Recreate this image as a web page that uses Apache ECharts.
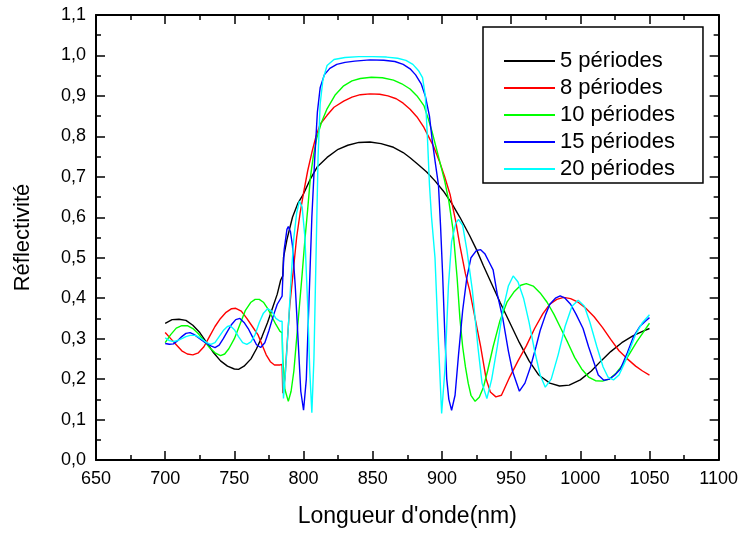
<!DOCTYPE html>
<html><head><meta charset="utf-8">
<script src="https://cdn.jsdelivr.net/npm/echarts@6/dist/echarts.min.js"></script>
<style>html,body{margin:0;padding:0;background:#fff}#c{width:741px;height:533px}</style>
</head><body><div id="c"></div>
<script>
const seriesNames = ['5 périodes', '8 périodes', '10 périodes', '15 périodes', '20 périodes'];
const seriesColors = ['#000000', '#ff0000', '#00ff00', '#0000ff', '#00ffff'];
const xTicks = [650, 700, 750, 800, 850, 900, 950, 1000, 1050, 1100];
const yTicks = [0, 0.1, 0.2, 0.3, 0.4, 0.5, 0.6, 0.7, 0.8, 0.9, 1.0, 1.1];

const wl5 = [700,705,710,715,720,725,730,735,740,745,750,753,757,762,766,770,774,778,781,783.5,785,785.5,788,792,796,800,805,810,817,825,832,840,848,856,865,872,877,883,889,895,901,907,913,920,925,930,936,942,949,956,963,970,978,985,992,1000,1008,1015,1022,1030,1038,1045,1050];
const r5  = [0.338,0.347,0.348,0.345,0.333,0.315,0.29,0.265,0.245,0.232,0.225,0.224,0.232,0.25,0.275,0.305,0.34,0.38,0.41,0.445,0.455,0.5,0.545,0.6,0.635,0.658,0.695,0.725,0.748,0.768,0.778,0.785,0.786,0.782,0.773,0.76,0.747,0.73,0.712,0.69,0.665,0.635,0.6,0.555,0.52,0.48,0.435,0.39,0.34,0.29,0.245,0.21,0.19,0.183,0.185,0.198,0.22,0.245,0.268,0.29,0.307,0.318,0.325];

const wl8 = [700,704,708,712,716,720,724,728,732,736,740,744,748,751,755,759,763,767,770,773,776,779,783,784.5,785,786.5,788,790,792.5,795,797.5,800,803,806,809,812,817,822,829,835,841,848,855,861,867,872,877,882,887,891,894,898,902,906,910,913,917,920,924,928,932,935,939,943,945,949,955,961,967,973,978,983,988,993,998,1004,1010,1016,1022,1028,1034,1040,1045,1050];
const r8  = [0.315,0.3,0.285,0.27,0.262,0.26,0.265,0.28,0.305,0.33,0.35,0.365,0.374,0.375,0.368,0.35,0.33,0.31,0.285,0.26,0.243,0.235,0.235,0.236,0.165,0.2,0.28,0.38,0.465,0.55,0.61,0.66,0.715,0.76,0.8,0.83,0.852,0.872,0.887,0.897,0.903,0.905,0.904,0.9,0.893,0.882,0.867,0.848,0.822,0.795,0.775,0.74,0.7,0.655,0.59,0.53,0.46,0.42,0.35,0.28,0.2,0.168,0.156,0.16,0.175,0.205,0.245,0.282,0.325,0.362,0.385,0.397,0.402,0.399,0.391,0.375,0.354,0.328,0.298,0.27,0.25,0.232,0.22,0.21];

const wl10 = [700,704,708,712,716,720,724,728,732,736,740,743,746,750,754,758,762,765,768,771,774,777,780,783,784.5,785,786.5,789,791,793,795,797,799,801,803,805,807,809.5,813,817,823,829,835,841,849,857,865,871,877,882,887,890,893,896,899,902,905,908,911,913,915,917,919,921,924,927,930,933,937,942,947,952,957,961,966,971,976,981,986,991,996,1001,1006,1011,1016,1021,1026,1031,1036,1041,1046,1050];
const r10  = [0.29,0.31,0.326,0.332,0.332,0.325,0.312,0.295,0.278,0.265,0.258,0.262,0.275,0.3,0.335,0.37,0.39,0.397,0.397,0.39,0.375,0.355,0.335,0.318,0.315,0.25,0.175,0.145,0.17,0.22,0.3,0.38,0.46,0.545,0.62,0.7,0.75,0.795,0.835,0.868,0.903,0.925,0.937,0.943,0.946,0.945,0.939,0.93,0.917,0.9,0.876,0.845,0.81,0.77,0.73,0.69,0.64,0.57,0.45,0.35,0.28,0.23,0.19,0.16,0.145,0.155,0.18,0.22,0.28,0.345,0.39,0.415,0.432,0.436,0.43,0.413,0.39,0.36,0.325,0.29,0.253,0.225,0.205,0.196,0.195,0.2,0.215,0.237,0.265,0.293,0.318,0.338];

const wl15 = [700,703,706,709,712,715,718,721,725,729,733,736,739,742,745,748,751,754,757,760,763,766,769,772,775,778,781,784.5,785,786,788,789,790.5,792,794,796,798,800,802,804,806,808,810,812,815,819,824,830,837,848,858,866,872,877,881,885,888,891,893,895,897.5,899,900.5,902,903.5,905,907,909.5,912,915,918,921,925,928,931,934,937,940,944,948,951,956,960,964,968,971,975,978,982,985.5,989,993,997,1002,1006,1010,1013,1017,1021,1025,1029,1034,1038.5,1043,1047,1050];
const r15  = [0.288,0.286,0.287,0.295,0.305,0.313,0.315,0.31,0.3,0.29,0.282,0.278,0.284,0.3,0.318,0.335,0.347,0.35,0.34,0.325,0.305,0.285,0.278,0.29,0.32,0.355,0.385,0.405,0.45,0.52,0.57,0.577,0.565,0.53,0.43,0.3,0.17,0.123,0.2,0.4,0.6,0.74,0.86,0.92,0.952,0.968,0.978,0.983,0.986,0.989,0.988,0.985,0.978,0.967,0.952,0.93,0.9,0.85,0.79,0.74,0.68,0.58,0.46,0.32,0.2,0.15,0.123,0.16,0.26,0.37,0.45,0.5,0.518,0.52,0.51,0.49,0.47,0.41,0.35,0.27,0.22,0.17,0.19,0.23,0.28,0.32,0.36,0.385,0.4,0.406,0.4,0.385,0.36,0.325,0.28,0.24,0.21,0.197,0.2,0.21,0.225,0.265,0.305,0.33,0.343,0.352];

const wl20 = [700,703,706,709,712,715,718,722,726,730,733,736,739,742,745,747,750,753,756,759,762,765,768,771,774,777,780,783,784.5,785,785.5,787,789,791,793,795,797,799,801,803,804.5,806,807.5,809,810.5,812,814,817,822,830,840,850,860,868,874,879,883,886,888,889.5,891,892.5,895,897.3,899.8,902.2,904.7,907,910,912,915,918,922,926,929,932.5,936,940,944,948,951.5,955,959,963,967,971,974.7,979,984,989,994,998.5,1003,1007,1012,1016.5,1020,1024,1028,1032,1036,1040,1045,1050];
const r20  = [0.302,0.295,0.293,0.295,0.3,0.305,0.308,0.308,0.3,0.29,0.286,0.29,0.305,0.32,0.33,0.332,0.322,0.305,0.29,0.286,0.292,0.31,0.34,0.363,0.374,0.368,0.35,0.343,0.343,0.22,0.152,0.22,0.33,0.45,0.55,0.61,0.64,0.625,0.55,0.38,0.22,0.117,0.25,0.5,0.75,0.88,0.94,0.975,0.99,0.995,0.997,0.997,0.996,0.993,0.988,0.978,0.963,0.945,0.9,0.8,0.68,0.6,0.5,0.306,0.115,0.225,0.43,0.54,0.585,0.595,0.58,0.52,0.42,0.28,0.19,0.152,0.2,0.28,0.37,0.43,0.455,0.44,0.4,0.34,0.27,0.21,0.18,0.2,0.26,0.33,0.38,0.395,0.38,0.34,0.28,0.23,0.205,0.198,0.21,0.24,0.275,0.31,0.34,0.359];

const wls = [wl5, wl8, wl10, wl15, wl20];
const rs = [r5, r8, r10, r15, r20];

const FONT = "'Liberation Sans', Arial, sans-serif";
const chart = echarts.init(document.getElementById('c'), null, {renderer: 'canvas'});
const fmtY = v => v.toFixed(1).replace('.', ',');
const fmtX = v => String(Math.round(v));

const axisCommon = {
  axisLine: {show: true, onZero: false, lineStyle: {color: '#000', width: 2}},
  axisTick: {show: true, inside: true, length: 9, lineStyle: {color: '#000', width: 1.5}},
  minorTick: {show: true, splitNumber: 2, length: 5, lineStyle: {color: '#000', width: 1.5}},
  splitLine: {show: false},
  minorSplitLine: {show: false}
};

chart.setOption({
  animation: false,
  backgroundColor: '#fff',
  grid: {left: 96, right: 22, top: 15, bottom: 67.5, containLabel: false},
  legend: {
    orient: 'vertical', left: 483, top: 27,
    data: seriesNames,
    itemWidth: 51, itemHeight: 14, itemGap: 5,
    padding: [23, 28, 3, 20],
    borderColor: '#000', borderWidth: 1.5,
    itemStyle: {opacity: 0},
    lineStyle: {width: 2},
    textStyle: {fontFamily: FONT, fontSize: 22, lineHeight: 22, color: '#000'},
    backgroundColor: '#fff'
  },
  xAxis: [
    Object.assign({}, axisCommon, {
      type: 'value', min: xTicks[0], max: xTicks[xTicks.length - 1], interval: 50, position: 'bottom',
      axisLabel: {show: true, margin: 10, fontFamily: FONT, fontSize: 18, color: '#000', formatter: fmtX},
      name: "Longueur d'onde(nm)", nameLocation: 'middle', nameGap: 45,
      nameTextStyle: {fontFamily: FONT, fontSize: 23, color: '#000'}
    }),
    Object.assign({}, axisCommon, {
      type: 'value', min: xTicks[0], max: xTicks[xTicks.length - 1], interval: 50, position: 'top',
      axisLabel: {show: false}
    })
  ],
  yAxis: [
    Object.assign({}, axisCommon, {
      type: 'value', min: yTicks[0], max: yTicks[yTicks.length - 1], interval: 0.1, position: 'left',
      axisLabel: {show: true, margin: 10, fontFamily: FONT, fontSize: 18, color: '#000', formatter: fmtY},
      name: 'Réflectivité', nameLocation: 'middle', nameGap: 62, nameRotate: 90,
      nameTextStyle: {fontFamily: FONT, fontSize: 22, color: '#000'}
    }),
    Object.assign({}, axisCommon, {
      type: 'value', min: yTicks[0], max: yTicks[yTicks.length - 1], interval: 0.1, position: 'right',
      axisLabel: {show: false}
    })
  ],
  series: seriesNames.map((name, i) => ({
    name: name,
    type: 'line',
    xAxisIndex: 0, yAxisIndex: 0,
    symbol: 'none',
    smooth: false,
    color: seriesColors[i],
    lineStyle: {color: seriesColors[i], width: 1.4},
    data: wls[i].map((x, j) => [x, rs[i][j]])
  }))
});
</script></body></html>
